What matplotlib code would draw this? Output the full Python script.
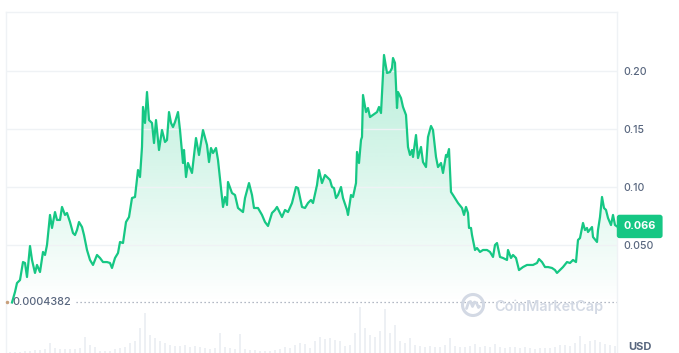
import numpy as np
import matplotlib
matplotlib.use("Agg")
import matplotlib.pyplot as plt
from matplotlib.patches import Polygon, Circle
from matplotlib.transforms import blended_transform_factory, IdentityTransform
from matplotlib.path import Path
from matplotlib.patches import PathPatch

plt.rcParams['font.family'] = ['Inter', 'DejaVu Sans']

# zaman ekseni (grafikteki konumlar) ve fiyatlar (USD)
t = [12, 15, 17, 20, 23, 25, 27, 30, 32, 35, 37, 40, 43, 45, 47, 50, 52, 55, 57, 60,
     62, 65, 67, 70, 73, 75, 77, 79, 82, 84, 87, 90, 93, 97, 100, 103, 107, 110, 112, 115,
     118, 120, 123, 126, 129, 132, 135, 138, 140, 142, 143, 145, 147, 149, 152, 154, 156, 159, 162, 165,
     167, 169, 171, 173, 175, 178, 180, 183, 184, 186, 188, 192, 196, 199, 203, 207, 209, 211, 213, 216,
     218, 223, 225, 227, 228, 232, 235, 238, 243, 245, 249, 252, 254, 258, 262, 265, 268, 272, 275, 277,
     282, 285, 288, 292, 296, 298, 302, 305, 308, 311, 313, 317, 319, 322, 325, 328, 330, 332, 334, 336,
     338, 341, 343, 347, 348, 351, 353, 356, 357, 359, 361, 362, 363, 366, 368, 370, 373, 377, 379, 381,
     384, 387, 390, 392, 393, 395, 397, 398, 401, 403, 406, 408, 410, 412, 413, 416, 418, 421, 423, 426,
     428, 431, 433, 436, 438, 441, 443, 446, 447, 449, 451, 453, 458, 462, 464, 466, 468, 469, 471, 472,
     475, 477, 480, 483, 487, 490, 493, 495, 497, 500, 503, 507, 508, 511, 513, 516, 519, 523, 527, 530,
     533, 537, 539, 542, 545, 548, 552, 555, 557, 560, 563, 567, 570, 573, 576, 578, 580, 583, 585, 587,
     588, 592, 593, 597, 598, 600, 602, 604, 606, 608, 611, 613, 615, 617]
price = [0.0004382, 0.0095, 0.0172, 0.0198, 0.0353, 0.0345, 0.0224, 0.0491, 0.0371, 0.0259,
         0.0328, 0.0267, 0.0440, 0.0414, 0.0500, 0.0759, 0.0647, 0.0784, 0.0716, 0.0716,
         0.0828, 0.0759, 0.0776, 0.0698, 0.0603, 0.0586, 0.0629, 0.0698, 0.0655, 0.0586,
         0.0457, 0.0371, 0.0328, 0.0414, 0.0388, 0.0353, 0.0353, 0.0345, 0.0302, 0.0388,
         0.0431, 0.0526, 0.0517, 0.0698, 0.0741, 0.0905, 0.0914, 0.1146, 0.1086, 0.1345,
         0.1690, 0.1552, 0.1819, 0.1577, 0.1552, 0.1379, 0.1577, 0.1319, 0.1491, 0.1388,
         0.1405, 0.1646, 0.1552, 0.1517, 0.1560, 0.1646, 0.1491, 0.1207, 0.1319, 0.1086,
         0.1207, 0.1121, 0.1422, 0.1276, 0.1491, 0.1362, 0.1215, 0.1336, 0.1293, 0.1336,
         0.1233, 0.0828, 0.0914, 0.0845, 0.1043, 0.0948, 0.0931, 0.0819, 0.0784, 0.0905,
         0.1034, 0.0931, 0.0819, 0.0819, 0.0759, 0.0698, 0.0664, 0.0776, 0.0802, 0.0828,
         0.0741, 0.0802, 0.0784, 0.0862, 0.1000, 0.0991, 0.0828, 0.0819, 0.0862, 0.0888,
         0.0862, 0.1017, 0.1146, 0.1034, 0.1103, 0.1078, 0.1060, 0.1000, 0.0991, 0.0905,
         0.0931, 0.1000, 0.0905, 0.0802, 0.0759, 0.0931, 0.0914, 0.1034, 0.1302, 0.1207,
         0.1405, 0.1431, 0.1793, 0.1646, 0.1681, 0.1603, 0.1621, 0.1646, 0.1690, 0.1638,
         0.2138, 0.1983, 0.1991, 0.2026, 0.2112, 0.2069, 0.1681, 0.1819, 0.1767, 0.1690,
         0.1621, 0.1345, 0.1276, 0.1319, 0.1259, 0.1448, 0.1250, 0.1345, 0.1215, 0.1172,
         0.1431, 0.1526, 0.1491, 0.1259, 0.1172, 0.1207, 0.1121, 0.1276, 0.1259, 0.1327,
         0.0957, 0.0931, 0.0862, 0.0819, 0.0759, 0.0828, 0.0776, 0.0647, 0.0647, 0.0586,
         0.0457, 0.0474, 0.0440, 0.0457, 0.0457, 0.0440, 0.0397, 0.0500, 0.0517, 0.0397,
         0.0388, 0.0371, 0.0457, 0.0388, 0.0414, 0.0388, 0.0284, 0.0310, 0.0328, 0.0328,
         0.0328, 0.0345, 0.0379, 0.0353, 0.0310, 0.0310, 0.0302, 0.0284, 0.0259, 0.0284,
         0.0310, 0.0353, 0.0345, 0.0371, 0.0353, 0.0543, 0.0560, 0.0690, 0.0629, 0.0647,
         0.0612, 0.0655, 0.0569, 0.0526, 0.0629, 0.0741, 0.0914, 0.0819, 0.0802, 0.0733,
         0.0672, 0.0759, 0.0672, 0.066]

# hacim çubukları (göreli)
vol_t = list(range(10, 616, 5))
vol = [1, 1, 1, 2, 2, 3, 3, 4, 10, 5, 4, 4, 4, 4, 5, 16, 8, 6, 2, 2,
       2, 4, 5, 6, 10, 12, 25, 40, 18, 15, 12, 10, 8, 7, 7, 8, 6, 7, 6, 5,
       4, 5, 20, 6, 5, 4, 19, 4, 3, 3, 2, 2, 2, 3, 4, 6, 5, 8, 10, 9,
       5, 12, 16, 14, 15, 13, 12, 7, 8, 20, 46, 25, 18, 16, 22, 44, 20, 28, 12, 10,
       15, 8, 7, 6, 7, 6, 6, 8, 15, 7, 6, 6, 7, 9, 6, 7, 6, 9, 6, 5,
       6, 6, 5, 6, 5, 4, 5, 5, 5, 6, 8, 8, 7, 10, 17, 9, 12, 13, 11, 9,
       8, 7]

y_ticks = [0.05, 0.10, 0.15, 0.20]
y_labels = ["0.050", "0.10", "0.15", "0.20"]
green = "#16c784"
gray_txt = "#58667e"

W, H = 679, 353
fig = plt.figure(figsize=(W / 100, H / 100), dpi=100)
fig.patch.set_facecolor("white")

ax_l, ax_r, ax_top = 6, 617, 12
ax = fig.add_axes([ax_l / W, 0, (ax_r - ax_l) / W, 1 - ax_top / H])
axv = fig.add_axes([ax_l / W, 0, (ax_r - ax_l) / W, 50 / H])
axv.patch.set_alpha(0)
for s in axv.spines.values():
    s.set_visible(False)
axv.set_xticks([])
axv.set_yticks([])
axv.bar(vol_t, vol, width=2.6, color="#edf0f4", linewidth=0)
axv.set_xlim(ax_l, ax_r)
axv.set_ylim(0, 50)

# gradyan dolgu
c = matplotlib.colors.to_rgb(green)
n = 256
rgba = np.zeros((n, 1, 4))
rgba[..., 0], rgba[..., 1], rgba[..., 2] = c
rgba[:, 0, 3] = np.linspace(0.30, 0.0, n)
top = max(price)
im = ax.imshow(rgba, extent=[t[0], t[-1], 0, top], origin="upper", aspect="auto", zorder=1)
verts = [(t[0], 0)] + list(zip(t, price)) + [(t[-1], 0)]
poly = Polygon(verts, closed=True, facecolor="none", edgecolor="none")
ax.add_patch(poly)
im.set_clip_path(poly)

for yv in y_ticks:
    ax.axhline(yv, color="#eff2f5", lw=1, zorder=2)
ax.plot(t, price, color=green, lw=1.6, zorder=3, solid_joinstyle="round")

ax.set_xlim(ax_l, ax_r)
ax.set_ylim(-(353 - 303) * 0.05 / 58, (303 - 12) * 0.05 / 58)

for s in ["top", "left", "right"]:
    ax.spines[s].set_color("#eff2f5")
    ax.spines[s].set_linewidth(1)
ax.spines["bottom"].set_visible(False)
ax.set_xticks([])
ax.yaxis.tick_right()
ax.set_yticks(y_ticks)
ax.set_yticklabels(y_labels)
ax.tick_params(axis="y", length=0, pad=4.5, labelsize=7.6, labelcolor=gray_txt)
for lb in ax.get_yticklabels():
    lb.set_fontweight("medium")

# en düşük değer çizgisi
low = price[0]
ax.plot([76, ax_r], [low, low], color="#9aa3b2", lw=0.9, ls=(0, (1, 2.2)), zorder=2)
ax.text(12, low, "0.0004382", ha="left", va="center", fontsize=7.8, color=gray_txt,
        fontweight="medium", zorder=4)
ax.plot([ax_l + 1], [low], marker="o", ms=1.5, color="#c8a07c", zorder=4, clip_on=False)

# son fiyat etiketi
tr = blended_transform_factory(ax.transAxes, ax.transData)
ax.annotate("0.066", xy=(1, price[-1]), xycoords=tr, xytext=(6.5, 0), textcoords="offset pixels",
            ha="left", va="center", fontsize=7.8, fontweight="bold", color="white",
            bbox=dict(boxstyle="round,pad=0.62,rounding_size=0.25", fc=green, ec="none"),
            annotation_clip=False, zorder=5)

# filigran
wm = "#d3d9e4"
fig.add_artist(Circle((473, H - 305), 10.5, transform=IdentityTransform(), fill=False,
                      ec=wm, lw=2.2))
mx = np.array([-6.5, -4.5, -2.5, -0.5, 1.5, 3.5, 5.5, 6.5])
my = np.array([-3.5, 2.5, 3.5, -1.5, 3.0, 2.0, -2.5, -1.5])
fig.add_artist(PathPatch(Path(np.column_stack([473 + mx, H - 305 + my])), transform=IdentityTransform(),
                         fill=False, ec=wm, lw=2.0, capstyle="round", joinstyle="round"))
fig.text(494 / W, 1 - 307 / H, "CoinMarketCap", ha="left", va="center", fontsize=10.4,
         color=wm, fontweight="semibold")

fig.text(628 / W, 1 / H, "USD", ha="left", va="bottom", fontsize=8, color=gray_txt,
         fontweight="bold")

fig.savefig("out.png", dpi=100, facecolor="white")
